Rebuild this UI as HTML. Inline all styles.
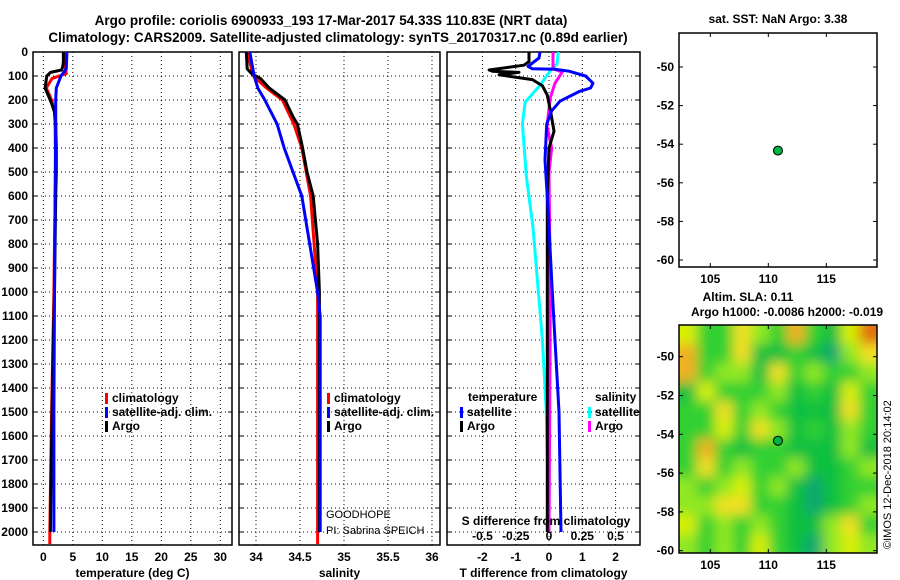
<!DOCTYPE html>
<html><head><meta charset="utf-8"><style>
body{margin:0;background:#fff}
svg{display:block;font-family:"Liberation Sans",sans-serif}
.b{font-weight:bold;font-size:12px}
.n{font-weight:normal;font-size:11px}
</style></head><body>
<svg id="s" width="900" height="580" viewBox="0 0 900 580">
<defs>
<filter id="blur" filterUnits="userSpaceOnUse" x="669" y="315" width="218" height="248"><feGaussianBlur stdDeviation="6"/></filter>
<clipPath id="mclip"><rect x="679" y="325" width="198" height="228"/></clipPath>
</defs>
<text x="331" y="25" text-anchor="middle" class="b" style="font-size:13.5px">Argo profile: coriolis 6900933_193 17-Mar-2017 54.33S 110.83E (NRT data)</text>
<text x="338" y="42" text-anchor="middle" class="b" style="font-size:13.5px">Climatology: CARS2009. Satellite-adjusted climatology: synTS_20170317.nc (0.89d earlier)</text>
<g id="g"></g>
</svg>
<script>
// ---- data ----
const depthTicks=[0,100,200,300,400,500,600,700,800,900,1000,1100,1200,1300,1400,1500,1600,1700,1800,1900,2000];
const tTicks=[0,5,10,15,20,25,30];
const sTicks=[34,34.5,35,35.5,36];
const dTTicks=[-2,-1,0,1,2];
const dSTicks=[-0.5,-0.25,0,0.25,0.5];
const dSTickLabels=["-0.5","-0.25","0","0.25","0.5"];
const argoTDepth=[0,40,60,75,85,100,150,190,220,250,300,400,500,600,800,1000,1200,1500,1800,2000];
const argoT=[3.4,3.4,3.3,3.1,1.2,0.6,0.3,1.0,1.5,1.9,2.1,2.2,2.2,2.1,2.0,1.9,1.7,1.5,1.3,1.2];
const climTDepth=[0,60,90,110,150,200,250,300,500,800,1000,1500,2000,2050];
const climT=[3.7,3.7,3.9,1.5,0.5,1.4,1.9,2.0,2.1,1.9,1.8,1.4,1.1,1.1];
const satTDepth=[0,70,100,150,200,300,600,1000,1500,1800,2000];
const satT=[4.0,3.9,3.0,2.2,2.1,2.1,2.0,1.9,1.8,1.8,1.8];
const argoSDepth=[0,70,90,110,150,200,270,300,400,500,600,800,1000,1500,1900,2000];
const argoS=[33.89,33.9,33.95,34.05,34.15,34.33,34.42,34.47,34.53,34.58,34.65,34.7,34.72,34.72,34.72,34.72];
const climSDepth=[0,100,150,200,300,400,600,1000,1500,2000,2050];
const climS=[33.9,33.97,34.12,34.3,34.43,34.52,34.62,34.7,34.7,34.7,34.7];
const satSDepth=[0,100,150,200,300,400,500,600,800,1000,1100,1500,2000];
const satS=[33.93,33.98,34.02,34.1,34.24,34.32,34.42,34.52,34.61,34.7,34.73,34.73,34.73];
const dArgoTDepth=[0,40,55,75,80,85,95,115,140,180,250,330,400,600,1000,1500,2000];
const dArgoT=[-0.6,-0.6,-0.75,-1.8,-1.7,-0.9,-1.5,-0.5,-0.2,-0.05,0.05,0.15,0.0,-0.05,-0.05,-0.05,-0.05];
const dSatTDepth=[0,25,60,70,72,80,100,130,150,165,205,245,300,450,650,1000,1500,2000];
const dSatT=[-0.27,-0.3,-0.63,-0.5,0.2,0.6,1.1,1.32,1.25,0.9,0.33,0.08,-0.07,-0.12,-0.03,0.1,0.3,0.36];
const dSatSDepth=[0,50,70,140,210,300,520,730,1000,1200,1500,2000];
const dSatS=[0.07,0.06,0.02,-0.07,-0.18,-0.2,-0.17,-0.12,-0.08,-0.05,-0.02,0.0];
const dArgoSDepth=[0,70,83,130,190,310,400,500,1000,1500,2000];
const dArgoS=[0.03,0.03,0.1,0.045,0.01,-0.015,0.02,0.0,0.01,0.005,0.0];
const latTicks=[-50,-52,-54,-56,-58,-60];
const lonTicks=[105,110,115];
const floatLon=110.83, floatLat=-54.33;
const slaGrid=[
[2.5,1.5,1.5,3,2,1.5,3.5,1.5,1,2.5,4],
[3.5,1.5,1.5,3,1,1,1.5,1,0.5,2,3],
[3.5,1.5,2,2,1,3,1.5,2,1.5,1.5,2],
[1,2.5,1.5,1.5,1.5,2,1,1.5,1,2.5,1.5],
[1.5,1.5,3,1.5,2,1.5,1,1,1,3,1.5],
[1.5,1.5,2.5,1.5,3,2,1,1.5,1,2,1.5],
[1.5,3.5,1.5,1,1.5,1.5,1,1,1,2,1],
[1.5,3,1.5,2,1.5,1.5,2,0.8,1,1.5,2],
[2,1.5,2,2.5,1.5,2,1,0.7,1,1.5,1.5],
[2,2,3,3,1.5,1.5,1,0.7,1,1.5,2],
[2.5,1.5,2,1.5,2,1.5,1,0.8,2,3,1.5],
[2,1.5,2,1.5,2.5,1.5,1,0.5,2,2.5,2]];

// ---- helpers ----
const NS="http://www.w3.org/2000/svg", G=document.getElementById('g');
function mk(tag,attrs,parent){const e=document.createElementNS(NS,tag);for(const k in attrs)e.setAttribute(k,attrs[k]);(parent||G).appendChild(e);return e;}
function txt(x,y,s,anchor,cls,name){const e=mk('text',{x:x,y:y,'text-anchor':anchor||'middle','class':cls||'b'});e.textContent=s;


return e;}
const pTop=52,pBot=545;
const yD=d=>pTop+0.24*d;
const panels=[
 {x0:33,x1:232,sx:v=>43.3+5.9*v,ticks:tTicks,lab:"temperature (deg C)",name:"temperature"},
 {x0:239,x1:440,sx:v=>256+88*(v-34),ticks:sTicks,lab:"salinity",name:"salinity"},
 {x0:447,x1:640,sx:v=>549+33.3*v,ticks:dTTicks,lab:"T difference from climatology",name:"t-diff"}];
const sxS=v=>549+133*v;

panels.forEach((p,i)=>{
 const g=mk('g',{});
 
 
 depthTicks.forEach(d=>{ if(d>0){const l=mk('line',{x1:p.x0,x2:p.x1,y1:yD(d),y2:yD(d),stroke:'#000','stroke-width':1,'stroke-dasharray':'1,3'},g);
  
  }
  mk('line',{x1:p.x0,x2:p.x0+4,y1:yD(d),y2:yD(d),stroke:'#000'},g);
  mk('line',{x1:p.x1-4,x2:p.x1,y1:yD(d),y2:yD(d),stroke:'#000'},g);});
 p.ticks.forEach((v,j)=>{const x=p.sx(v);
  const l=mk('line',{x1:x,x2:x,y1:pTop,y2:pBot,stroke:'#000','stroke-width':1,'stroke-dasharray':'1,3'},g);
  
  
  txt(x,561,String(v),'middle','b','x-tick-label');});
 const r=mk('rect',{x:p.x0,y:pTop,width:p.x1-p.x0,height:pBot-pTop,fill:'none',stroke:'#000','stroke-width':1.5},g);
 
 
 txt((p.x0+p.x1)/2,577,p.lab,'middle','b',p.name+'-x-axis-title');
});
depthTicks.forEach(d=>txt(28,yD(d)+4,String(d),'end','b','depth-tick-label'));

function line(ds,vs,sx,color,name){
 const pts=ds.map((d,i)=>sx(vs[i]).toFixed(1)+','+yD(d).toFixed(1)).join(' ');
 const e=mk('polyline',{points:pts,fill:'none',stroke:color,'stroke-width':3,'stroke-linejoin':'round'});
 
 }
const P=panels;
line(climTDepth,climT,P[0].sx,'#f00','climatology-temperature-line');
line(argoTDepth,argoT,P[0].sx,'#000','argo-temperature-line');
line(satTDepth,satT,P[0].sx,'#00f','satellite-temperature-line');
line(climSDepth,climS,P[1].sx,'#f00','climatology-salinity-line');
line(argoSDepth,argoS,P[1].sx,'#000','argo-salinity-line');
line(satSDepth,satS,P[1].sx,'#00f','satellite-salinity-line');
line(dSatSDepth,dSatS,sxS,'#0ff','satellite-s-diff-line');
line(dArgoSDepth,dArgoS,sxS,'#f0f','argo-s-diff-line');
line(dArgoTDepth,dArgoT,P[2].sx,'#000','argo-t-diff-line');
line(dSatTDepth,dSatT,P[2].sx,'#00f','satellite-t-diff-line');

dSTicks.forEach((v,i)=>txt(sxS(v),540,dSTickLabels[i],'middle','b','s-diff-tick-label'));
txt(546,525,'S difference from climatology','middle','b','s-diff-axis-title');

function leg(x,y,c,s,name){const r=mk('rect',{x:x,y:y-9,width:3,height:11,fill:c});
 
 
 txt(x+7,y,s,'start','b',name+'-label');}
leg(105,402,'#f00','climatology','legend-climatology');
leg(105,416,'#00f','satellite-adj. clim.','legend-satellite-adj');
leg(105,430,'#000','Argo','legend-argo');
leg(327,402,'#f00','climatology','legend-climatology-2');
leg(327,416,'#00f','satellite-adj. clim.','legend-satellite-adj-2');
leg(327,430,'#000','Argo','legend-argo-2');
txt(468,401,'temperature','start','b','legend-temperature-heading');
txt(595,401,'salinity','start','b','legend-salinity-heading');
leg(460,416,'#00f','satellite','legend-t-satellite');
leg(460,430,'#000','Argo','legend-t-argo');
leg(588,416,'#0ff','satellite','legend-s-satellite');
leg(588,430,'#f0f','Argo','legend-s-argo');
txt(326,518,'GOODHOPE','start','n','pi-project');
txt(326,534,'PI: Sabrina SPEICH','start','n','pi-name');

// ---- maps ----
const mx=v=>679+(v-102.3)*11.6;
function mapFrame(y0,y1,ly,name){
 const r=mk('rect',{x:679,y:y0,width:198,height:y1-y0,fill:'none',stroke:'#000','stroke-width':1.5});
 
 
 latTicks.forEach(v=>{const y=ly(v);mk('line',{x1:679,x2:683,y1:y,y2:y,stroke:'#000'});mk('line',{x1:873,x2:877,y1:y,y2:y,stroke:'#000'});
  txt(674,y+4,String(v),'end','b',name+'-lat-label');});
 lonTicks.forEach(v=>{const x=mx(v);mk('line',{x1:x,x2:x,y1:y0,y2:y0+4,stroke:'#000'});mk('line',{x1:x,x2:x,y1:y1-4,y2:y1,stroke:'#000'});
  txt(x,y1+16,String(v),'middle','b',name+'-lon-label');});
 const c=mk('circle',{cx:mx(floatLon),cy:ly(floatLat),r:4.5,fill:'#00b040',stroke:'#000'});
 
 
}
const ly1=v=>67+(-50-v)*19.3, ly2=v=>356.7+(-50-v)*19.4;
const cols=['#10a870','#10c040','#30d030','#90e820','#d8f000','#f0e020','#f0b020','#e07010'];
const hm=mk('g',{'clip-path':'url(#mclip)'});


const hb=mk('g',{filter:'url(#blur)'},hm);
mk('rect',{x:669,y:315,width:218,height:248,fill:'#30d030'},hb);
const cw=198/11, ch=228/12;
slaGrid.forEach((row,ri)=>row.forEach((v,ci)=>{
 const k=Math.max(0,Math.min(7,Math.round((v-0.5)*2)));
 const x=679+ci*cw-(ci==0?10:0), y=325+ri*ch-(ri==0?10:0);
 const w=cw+(ci==0?10:0)+(ci==10?10:0), h=ch+(ri==0?10:0)+(ri==11?10:0);
 const c=mk('rect',{x:x,y:y,width:w,height:h,fill:cols[k]},hb);
 
 
}));
mapFrame(33,267,ly1,'sst-map');
mapFrame(325,553,ly2,'sla-map');
txt(778,23,'sat. SST: NaN Argo: 3.38','middle','b','sst-map-title');
txt(748,301,'Altim. SLA: 0.11','middle','b','sla-map-title');
txt(787,316,'Argo h1000: -0.0086 h2000: -0.019','middle','b','sla-map-subtitle');
const im=txt(0,0,'©IMOS 12-Dec-2018 20:14:02','start','n','copyright');
im.setAttribute('font-size','12');
im.setAttribute('transform','translate(891,549) rotate(-90)');
</script>
</body></html>
